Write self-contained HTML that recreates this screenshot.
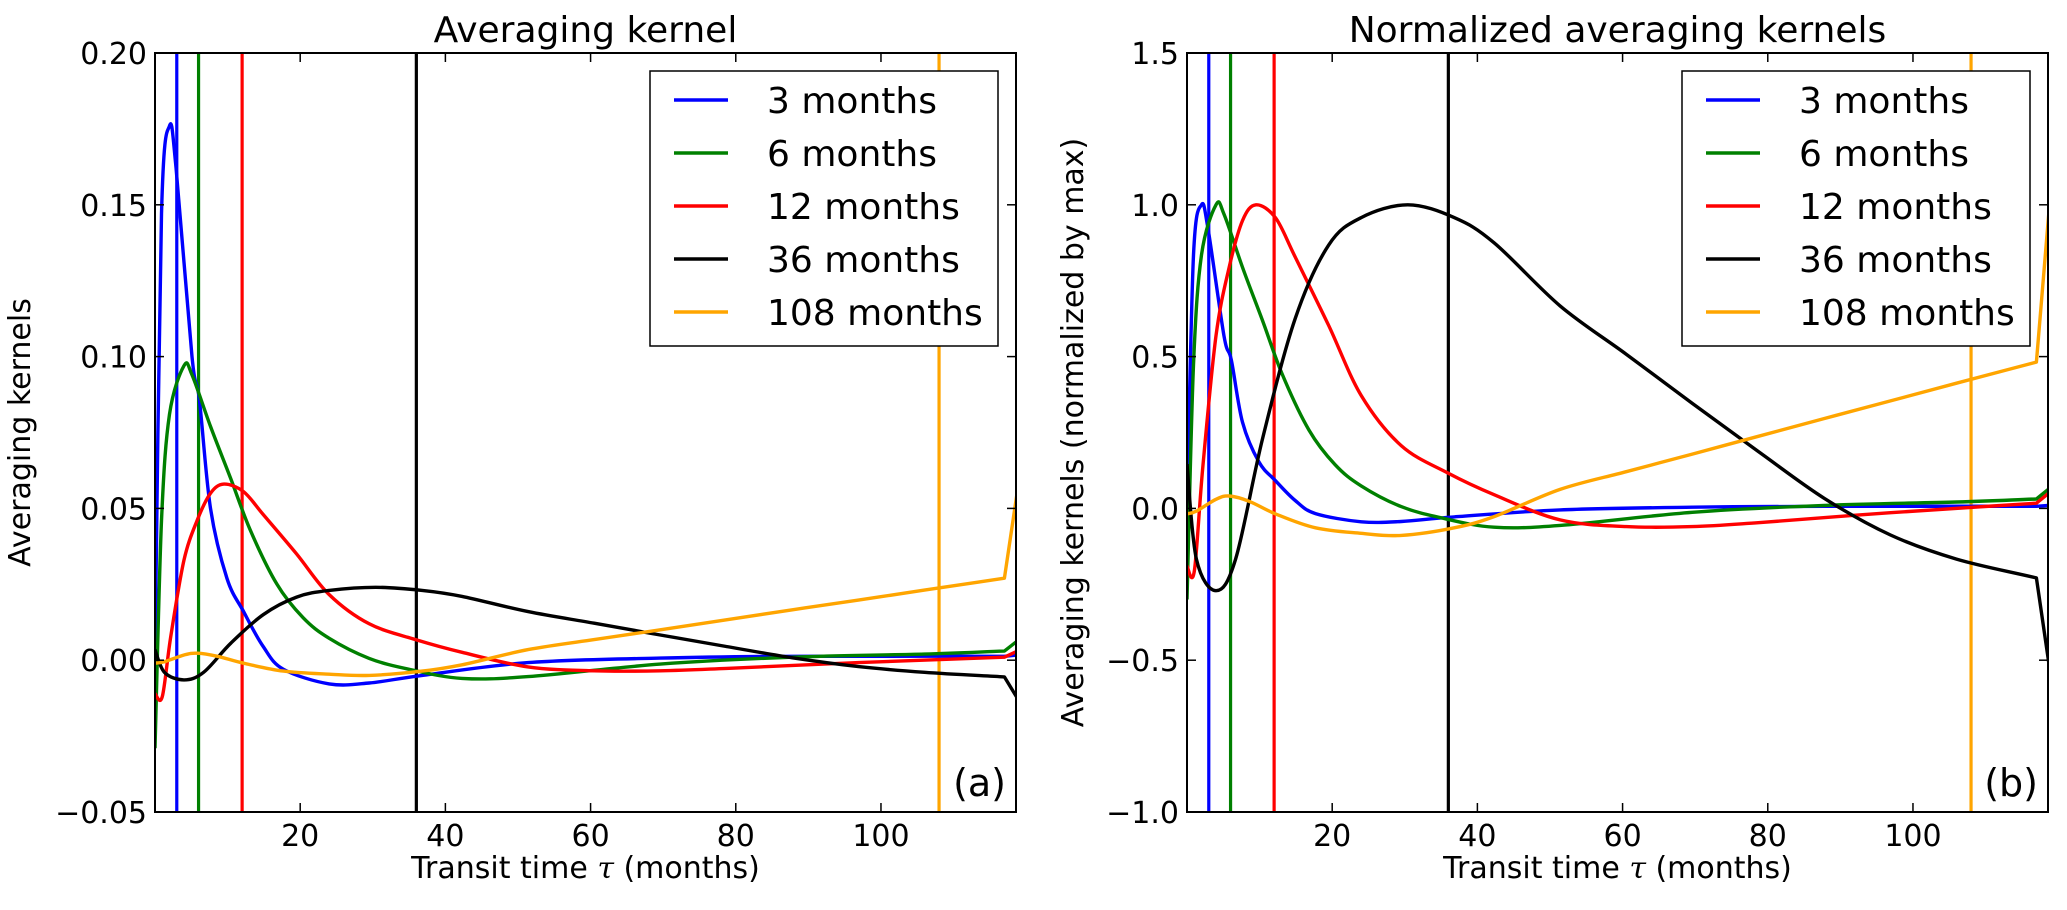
<!DOCTYPE html>
<html><head><meta charset="utf-8"><style>
html,body{margin:0;padding:0;background:#fff;}
svg text{font-family:"DejaVu Sans","Liberation Sans",sans-serif;fill:#000;}
</style></head><body>
<svg id="fig" width="2067" height="905" viewBox="0 0 2067 905" xmlns="http://www.w3.org/2000/svg"></svg>
<script>
// ---- data (x in months, y values) ----
const seriesNames = ["3 months","6 months","12 months","36 months","108 months"];
const seriesColors = ["#0000ff","#008000","#ff0000","#000000","#ffa500"];
const vlineX = [3,6,12,36,108];

const blueX = [0,0.9,2.0,2.9,5.1,6.1,7.65,9.9,12.2,14.9,17.7,24,29.5,36.8,51.4,69.6,87.8,117,118.8];
const blueA = [0.0,0.147,0.176,0.162,0.10,0.086,0.05,0.027,0.016,0.0045,-0.003,-0.0078,-0.0075,-0.005,-0.0008,0.0007,0.0013,0.0013,0.0017];
const blueB = [0,0.835,1,0.92,0.568,0.489,0.284,0.153,0.091,0.026,-0.017,-0.044,-0.043,-0.028,-0.005,0.004,0.007,0.007,0.01];

const greenX = [0,0.9,2.0,4.0,5.1,7.65,10.4,13.1,16.8,20.4,24,29.5,35,42.3,51.4,69.6,87.8,106,117,118.8];
const greenA = [-0.029,0.046,0.081,0.097,0.094,0.077,0.06,0.043,0.025,0.014,0.0072,0.0006,-0.003,-0.006,-0.0054,-0.0013,0.001,0.002,0.003,0.0064];
const greenB = [-0.30,0.474,0.835,1,0.969,0.794,0.619,0.443,0.258,0.144,0.074,0.006,-0.031,-0.062,-0.056,-0.013,0.01,0.021,0.031,0.066];

const redX = [0,1.0,2.2,4,5.8,7.65,9.5,12.2,14.9,19.5,24,29.5,35.9,42.3,51.4,60.5,69.6,78.7,96.9,117,118.8];
const redA = [-0.011,-0.012,0.0083,0.033,0.046,0.055,0.058,0.0555,0.048,0.035,0.0216,0.012,0.0068,0.0026,-0.0022,-0.0035,-0.0035,-0.0027,-0.0008,0.001,0.003];
const redB = [-0.19,-0.207,0.143,0.569,0.793,0.948,1,0.957,0.828,0.603,0.372,0.207,0.117,0.045,-0.038,-0.06,-0.06,-0.047,-0.014,0.017,0.052];

const blackX = [0,1.3,4,6.7,10.4,14.9,19.5,24,30.4,36.8,42.3,51.4,60.5,69.6,78.7,87.8,96.9,106,117,118.8];
const blackA = [0.0035,-0.004,-0.0065,-0.004,0.0055,0.015,0.0208,0.023,0.024,0.023,0.021,0.016,0.0122,0.0083,0.0045,0.0008,-0.0021,-0.004,-0.0055,-0.0126];
const blackB = [0.146,-0.167,-0.271,-0.167,0.229,0.625,0.867,0.958,1,0.958,0.875,0.667,0.508,0.346,0.1875,0.033,-0.0875,-0.167,-0.229,-0.525];

const orangeX = [0,1.3,4,5.8,8.6,12.2,17.7,24,29.5,36.8,42.3,51.4,60.5,69.6,78.7,87.8,96.9,106,117,118.8];
const orangeA = [-0.001,-0.0005,0.0017,0.0023,0.0013,-0.001,-0.0036,-0.0046,-0.005,-0.0036,-0.0015,0.0035,0.0068,0.010,0.0133,0.0166,0.0198,0.0231,0.027,0.056];
const orangeB = [-0.018,-0.009,0.03,0.041,0.023,-0.018,-0.064,-0.082,-0.089,-0.064,-0.027,0.0625,0.121,0.179,0.2375,0.296,0.354,0.4125,0.482,1.0];

const xTicks = [20,40,60,80,100];
const yTicksA = [0.20,0.15,0.10,0.05,0.00,-0.05];
const yTickLabelsA = ["0.20","0.15","0.10","0.05","0.00","\u22120.05"];
const yTicksB = [1.5,1.0,0.5,0.0,-0.5,-1.0];
const yTickLabelsB = ["1.5","1.0","0.5","0.0","\u22120.5","\u22121.0"];

const NS = "http://www.w3.org/2000/svg";
const svg = document.getElementById("fig");
function mk(tag, attrs, parent){
  const e = document.createElementNS(NS, tag);
  for (const k in attrs) e.setAttribute(k, attrs[k]);
  (parent||svg).appendChild(e);
  return e;
}

// smooth path through points (Catmull-Rom -> cubic Bezier); last segment straight
function smoothPath(pts){
  let d = "M" + pts[0][0].toFixed(1) + "," + pts[0][1].toFixed(1);
  const n = pts.length;
  for (let i = 0; i < n - 1; i++){
    if (i === n - 2){ d += " L" + pts[i+1][0].toFixed(1) + "," + pts[i+1][1].toFixed(1); continue; }
    const p0 = pts[Math.max(0, i-1)], p1 = pts[i], p2 = pts[i+1], p3 = pts[Math.min(n-1, i+2)];
    const t = 1/6;
    const c1x = p1[0] + (p2[0]-p0[0])*t, c1y = p1[1] + (p2[1]-p0[1])*t;
    let c2x = p2[0] - (p3[0]-p1[0])*t, c2y = p2[1] - (p3[1]-p1[1])*t;
    if (i === n - 3){ c2x = p2[0] - (p2[0]-p1[0])/3; c2y = p2[1] - (p2[1]-p1[1])/3; }
    d += " C" + c1x.toFixed(1) + "," + c1y.toFixed(1) + " " + c2x.toFixed(1) + "," + c2y.toFixed(1) + " " + p2[0].toFixed(1) + "," + p2[1].toFixed(1);
  }
  return d;
}

const X0 = 0, X1 = 118.6, TOP = 53, BOT = 812;

function panel(id, left, right, ymin, ymax, seriesX, seriesY, yTicks, yLabels, title, ylabel, ylabelX, tag){
  const g = mk("g", {});
  
  
  const sx = v => left + (v - X0) / (X1 - X0) * (right - left);
  const sy = v => BOT - (v - ymin) / (ymax - ymin) * (BOT - TOP);
  const cp = mk("clipPath", {id: "clip-" + id}, g);
  mk("rect", {x: left, y: TOP, width: right - left, height: BOT - TOP}, cp);
  const plot = mk("g", {"clip-path": "url(#clip-" + id + ")"}, g);

  vlineX.forEach((v, i) => {
    const l = mk("line", {x1: sx(v), x2: sx(v), y1: TOP, y2: BOT, stroke: seriesColors[i], "stroke-width": 3.2}, plot);
    
    
  });
  seriesY.forEach((ys, i) => {
    const xs = seriesX[i];
    const pts = ys.map((v, j) => [sx(xs[j]), sy(v)]);
    const p = mk("path", {d: smoothPath(pts), fill: "none", stroke: seriesColors[i], "stroke-width": 3.4, "stroke-linejoin": "round"}, plot);
    
    
  });

  const fr = mk("rect", {x: left, y: TOP, width: right - left, height: BOT - TOP, fill: "none", stroke: "#000", "stroke-width": 2}, g);
  
  

  xTicks.forEach(v => {
    const x = sx(v);
    mk("line", {x1: x, x2: x, y1: BOT, y2: BOT - 9, stroke: "#000", "stroke-width": 1.5}, g);
    mk("line", {x1: x, x2: x, y1: TOP, y2: TOP + 9, stroke: "#000", "stroke-width": 1.5}, g);
    const t = mk("text", {x: x, y: 846, "font-size": 30, "text-anchor": "middle"}, g);
    t.textContent = v;
    
    
  });
  yTicks.forEach((v, i) => {
    const y = sy(v);
    mk("line", {x1: left, x2: left + 9, y1: y, y2: y, stroke: "#000", "stroke-width": 1.5}, g);
    mk("line", {x1: right, x2: right - 9, y1: y, y2: y, stroke: "#000", "stroke-width": 1.5}, g);
    const t = mk("text", {x: left - 8, y: y + 11, "font-size": 30, "text-anchor": "end"}, g);
    t.textContent = yLabels[i];
    
    
  });

  const tt = mk("text", {x: (left + right) / 2, y: 42, "font-size": 36, "text-anchor": "middle"}, g);
  tt.textContent = title;
  
  

  const xl = mk("text", {x: (left + right) / 2, y: 878, "font-size": 30, "text-anchor": "middle"}, g);
  xl.innerHTML = 'Transit time <tspan font-style="italic" font-family="DejaVu Serif, serif">\u03c4</tspan> (months)';
  
  

  const cy = (TOP + BOT) / 2;
  const yl = mk("text", {x: ylabelX, y: cy, "font-size": 30, "text-anchor": "middle", transform: "rotate(-90 " + ylabelX + " " + cy + ")"}, g);
  yl.textContent = ylabel;
  
  

  const tg = mk("text", {x: right - 10, y: 796, "font-size": 38, "text-anchor": "end"}, g);
  tg.textContent = tag;
  
  

  const lg = mk("g", {}, g);
  
  
  const lx = left + 495;
  mk("rect", {x: lx, y: 71, width: right - 18 - lx, height: 275, fill: "#fff", stroke: "#000", "stroke-width": 1.5}, lg);
  seriesNames.forEach((n, i) => {
    const y = 100 + i * 53;
    const e = mk("g", {}, lg);
    
    
    mk("line", {x1: lx + 24, x2: lx + 78, y1: y, y2: y, stroke: seriesColors[i], "stroke-width": 3.4}, e);
    const t = mk("text", {x: lx + 117, y: y + 13, "font-size": 36}, e);
    t.textContent = n;
  });
}

panel("panel-a", 155, 1016, -0.05, 0.20,
  [blueX, greenX, redX, blackX, orangeX], [blueA, greenA, redA, blackA, orangeA],
  yTicksA, yTickLabelsA, "Averaging kernel", "Averaging kernels", 30, "(a)");
panel("panel-b", 1187, 2048, -1.0, 1.5,
  [blueX, greenX, redX, blackX, orangeX], [blueB, greenB, redB, blackB, orangeB],
  yTicksB, yTickLabelsB, "Normalized averaging kernels", "Averaging kernels (normalized by max)", 1083, "(b)");
</script>
</body></html>
